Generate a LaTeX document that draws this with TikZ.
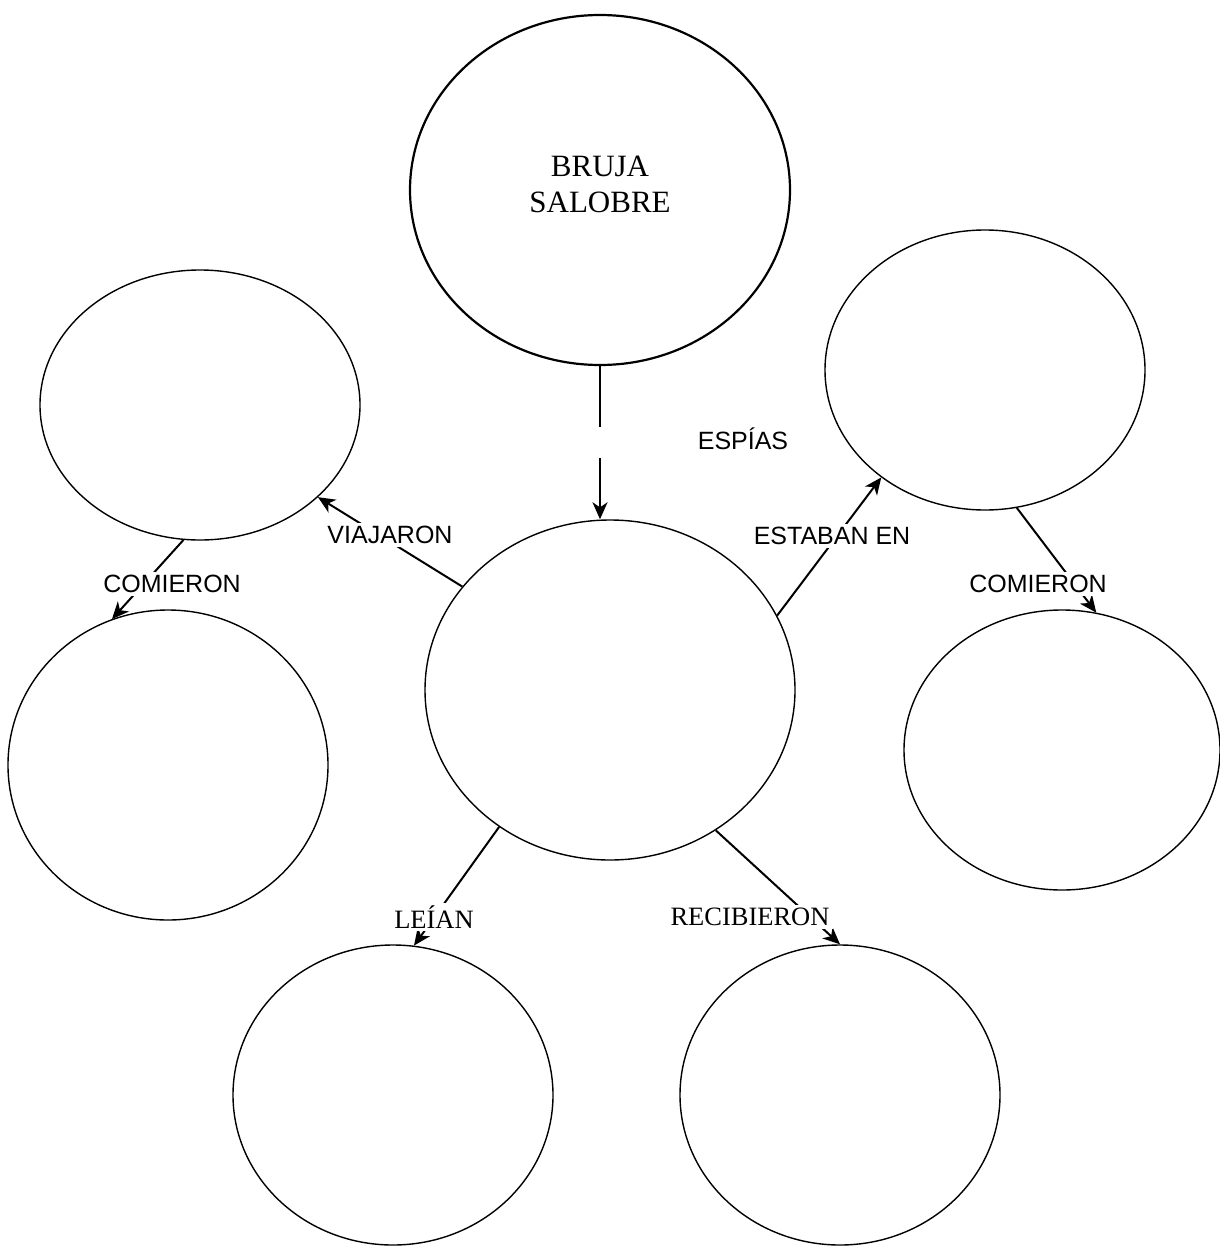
\documentclass[tikz,border=0pt]{standalone}
\usepackage{fontspec}
\setmainfont{Liberation Serif}
\setsansfont{Liberation Sans}
\usepackage{tikz}
\usetikzlibrary{arrows.meta}
\usetikzlibrary{shapes.geometric}

\tikzset{
  bubble/.style={draw, ellipse, line width=1.4pt, inner sep=0pt},
  tag/.style={fill=white, inner sep=3pt, font=\sffamily\fontsize{25}{30}\selectfont},
  serif tag/.style={fill=white, inner sep=3pt, font=\rmfamily\fontsize{26.5}{30}\selectfont},
  link/.style={line width=1.5pt},
  arrowlink/.style={line width=2pt, -{Stealth[length=17pt, width=15pt, inset=5pt]}}
}

\begin{document}
\begin{tikzpicture}[x=1pt, y=-1pt]
\useasboundingbox (0,0) rectangle (1220,1255);

% the bubbles
\node[bubble, line width=2.2pt, minimum width=380pt, minimum height=350pt, align=center,
  text depth=12pt, font=\rmfamily\fontsize{31}{36}\selectfont] (bruja) at (600,190) {BRUJA\\SALOBRE};
\node[bubble, minimum width=370pt, minimum height=340pt] (centro) at (610,690) {};
\node[bubble, minimum width=320pt, minimum height=270pt] (viaje) at (200,405) {};
\node[bubble, minimum width=320pt, minimum height=310pt] (comida1) at (168,765) {};
\node[bubble, minimum width=320pt, minimum height=280pt] (lugar) at (985,370) {};
\node[bubble, minimum width=316pt, minimum height=280pt] (comida2) at (1062,750) {};
\node[bubble, minimum width=320pt, minimum height=300pt] (lectura) at (393,1095) {};
\node[bubble, minimum width=320pt, minimum height=300pt] (regalo) at (840,1095) {};

% top link, broken in the middle
\coordinate (gapa) at (600,427);
\coordinate (gapb) at (600,458);
\draw[link] (bruja.south) -- (gapa);
\draw[arrowlink] (gapb) -- (centro.north -| gapb);
\node[tag, fill=none] (espias) at (743,439) {ESPÍAS};

% links with labels
\draw[arrowlink] (centro.145) -- (viaje.322);
\node[tag] (viajaron) at (390,535) {VIAJARON};

\draw[arrowlink] (viaje.263) -- (comida1.111);
\node[tag] (comieron1) at (172,584) {COMIERON};

\draw[arrowlink] (centro.24) -- (lugar.226);
\node[tag] (estaban) at (832,536) {ESTABAN EN};

\draw[arrowlink] (lugar.283) -- (comida2.76);
\node[tag] (comieron2) at (1038,584) {COMIERON};

\draw[arrowlink] (centro.231) -- (lectura.82);
\node[serif tag] (leian) at (434,917) {LEÍAN};

\draw[arrowlink] (centro.307) -- (regalo.90);
\node[serif tag] (recibieron) at (750,917) {RECIBIERON};

\end{tikzpicture}
\end{document}
